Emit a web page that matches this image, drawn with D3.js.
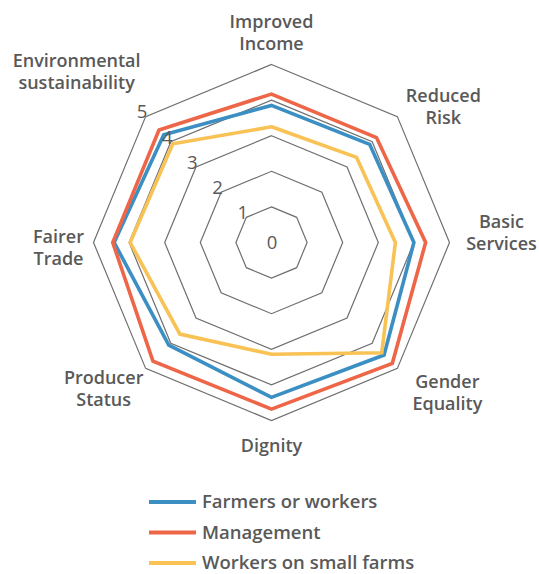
<!DOCTYPE html>
<html>
<head>
<meta charset="utf-8">
<script src="https://cdn.jsdelivr.net/npm/d3@7"></script>
<style>
  html, body { margin: 0; padding: 0; background: #fff; }
  svg { display: block; font-family: "Open Sans", sans-serif; }
</style>
</head>
<body>
<svg id="chart" width="539" height="574"></svg>
<script>
// Radar axes, clockwise from the top
const axes = [
  "Improved Income", "Reduced Risk", "Basic Services", "Gender Equality",
  "Dignity", "Producer Status", "Fairer Trade", "Environmental sustainability"
];
// Multi-line axis captions
const axisLines = [
  ["Improved", "Income"], ["Reduced", "Risk"], ["Basic", "Services"], ["Gender", "Equality"],
  ["Dignity"], ["Producer", "Status"], ["Fairer", "Trade"], ["Environmental", "sustainability"]
];

// Scores per group
const farmersOrWorkers = [3.85, 3.9, 4.0, 4.47, 4.35, 4.08, 4.42, 4.28];
const management       = [4.17, 4.17, 4.33, 4.8, 4.68, 4.71, 4.46, 4.47];
const smallFarmWorkers = [3.25, 3.38, 3.48, 4.38, 3.14, 3.64, 3.97, 3.92];

const seriesNames = ["Farmers or workers", "Management", "Workers on small farms"];
const seriesValues = [farmersOrWorkers, management, smallFarmWorkers];

const levelTicks = [0, 1, 2, 3, 4, 5];

// Layout
const cx = 271.5, cy = 242.5, outerR = 178;
const colors = ["#3b8fc3", "#ee6648", "#f8c255"];
const fontSize = 18;
// Caption offsets from each outer vertex (x, y of first baseline)
const captionOffsets = [
  [0, -37], [46, -15], [52, -15], [50, 20],
  [0, 31], [-42, 16], [-35, 0], [-69, -50]
];

const svg = d3.select("#chart");
const g = svg.append("g").attr("transform", `translate(${cx},${cy})`);

const r = d3.scaleLinear().domain([0, 5]).range([0, outerR]);
const angle = d3.scalePoint().domain(axes).range([0, 2 * Math.PI * (axes.length - 1) / axes.length]);

const radial = d3.lineRadial()
  .angle((d, i) => angle(axes[i]))
  .radius(d => r(d))
  .curve(d3.curveLinearClosed);

// Octagonal grid rings
g.selectAll("path.ring")
  .data(levelTicks.filter(v => v > 0))
  .join("path")
  .attr("class", "ring")
  .attr("d", v => radial(axes.map(() => v)))
  .attr("fill", "none")
  .attr("stroke", "#6f6f6f")
  .attr("stroke-width", 1.2);

// Series polygons
g.selectAll("path.series")
  .data([0, 1, 2])
  .join("path")
  .attr("class", "series")
  .attr("d", i => radial(seriesValues[i]))
  .attr("fill", "none")
  .attr("stroke", i => colors[i])
  .attr("stroke-width", 3.6)
  .attr("stroke-linejoin", "miter");

// Level labels along the upper-left diagonal
const tickAngle = -Math.PI / 4;
g.selectAll("text.tick")
  .data(levelTicks)
  .join("text")
  .attr("class", "tick")
  .attr("x", v => v === 0 ? 0.5 : (r(v) + 8) * Math.sin(tickAngle) + 2)
  .attr("y", v => v === 0 ? -1 : -(r(v) + 8) * Math.cos(tickAngle))
  .attr("text-anchor", "middle")
  .attr("dominant-baseline", "central")
  .attr("font-size", 18.5)
  .attr("fill", "#595959")
  .text(v => v);

// Axis captions
axes.forEach((a, i) => {
  const th = angle(a);
  const vx = outerR * Math.sin(th), vy = -outerR * Math.cos(th);
  const t = g.append("text")
    .attr("text-anchor", "middle")
    .attr("font-size", fontSize)
    .attr("font-weight", 600)
    .attr("fill", "#595959");
  axisLines[i].forEach((line, k) => {
    t.append("tspan")
      .attr("x", vx + captionOffsets[i][0])
      .attr("y", vy + captionOffsets[i][1] + k * 22)
      .text(line);
  });
});

// Legend
const legend = svg.append("g").attr("transform", "translate(149,502)");
const item = legend.selectAll("g")
  .data(seriesNames)
  .join("g")
  .attr("transform", (d, i) => `translate(0,${i * 30.5})`);
item.append("line")
  .attr("x1", 0).attr("x2", 47)
  .attr("stroke", (d, i) => colors[i])
  .attr("stroke-width", 4);
item.append("text")
  .attr("x", 53)
  .attr("y", -1.5)
  .attr("dominant-baseline", "central")
  .attr("font-size", 18.5)
  .attr("font-weight", 600)
  .attr("fill", "#595959")
  .text(d => d);
</script>
</body>
</html>
